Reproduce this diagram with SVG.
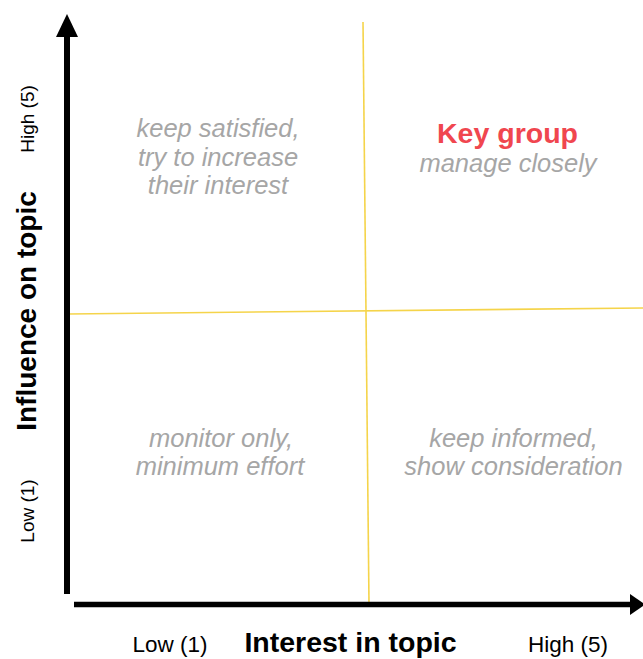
<svg xmlns="http://www.w3.org/2000/svg" width="643" height="659" viewBox="0 0 643 659">
<style>
.q{font-family:"Liberation Sans",Arial,sans-serif;font-style:italic;font-size:25.5px;fill:#a6a6a6;text-anchor:middle}
.ax{font-family:"Liberation Sans",Arial,sans-serif;font-size:22.5px;fill:#000;text-anchor:middle}
.axv{font-family:"Liberation Sans",Arial,sans-serif;font-size:19px;fill:#000;text-anchor:middle}
.axb{font-family:"Liberation Sans",Arial,sans-serif;font-size:28.5px;font-weight:bold;fill:#000;text-anchor:middle}
.grid{stroke:#f5d44a;stroke-width:1.6;fill:none}
</style>
<rect width="643" height="659" fill="#fff"/>
<g id="connectors">
<line class="grid" x1="363" y1="22" x2="369" y2="604"/>
<line class="grid" x1="68" y1="314" x2="643" y2="308"/>
<line x1="67" y1="30" x2="67" y2="594" stroke="#000" stroke-width="6"/>
<polygon points="67,14 56,37 78,37" fill="#000"/>
<line x1="74" y1="604.5" x2="632" y2="604.5" stroke="#000" stroke-width="5.5"/>
<polygon points="645,604.5 630,594 630,615" fill="#000"/>
</g>
<g id="q-top-left">
<text class="q" x="218" y="137">keep satisfied,</text>
<text class="q" x="218" y="166">try to increase</text>
<text class="q" x="218" y="194">their interest</text>
</g>
<g id="q-top-right">
<text x="507.5" y="143" style="font-family:'Liberation Sans',Arial,sans-serif;font-size:28.5px;font-weight:bold;fill:#f0464f;text-anchor:middle">Key group</text>
<text class="q" x="508" y="172">manage closely</text>
</g>
<g id="q-bottom-left">
<text class="q" x="221" y="447">monitor only,</text>
<text class="q" x="220" y="475">minimum effort</text>
</g>
<g id="q-bottom-right">
<text class="q" x="513.5" y="447">keep informed,</text>
<text class="q" x="513.5" y="475">show consideration</text>
</g>
<g id="y-axis-labels">
<text class="axv" transform="translate(34,119) rotate(-90)">High (5)</text>
<text class="axb" style="font-size:28px" transform="translate(36,311) rotate(-90)">Influence on topic</text>
<text class="axv" transform="translate(34,511) rotate(-90)">Low (1)</text>
</g>
<g id="x-axis-labels">
<text class="ax" x="170" y="652">Low (1)</text>
<text class="axb" x="350.5" y="652">Interest in topic</text>
<text class="ax" x="568" y="652">High (5)</text>
</g>
</svg>
